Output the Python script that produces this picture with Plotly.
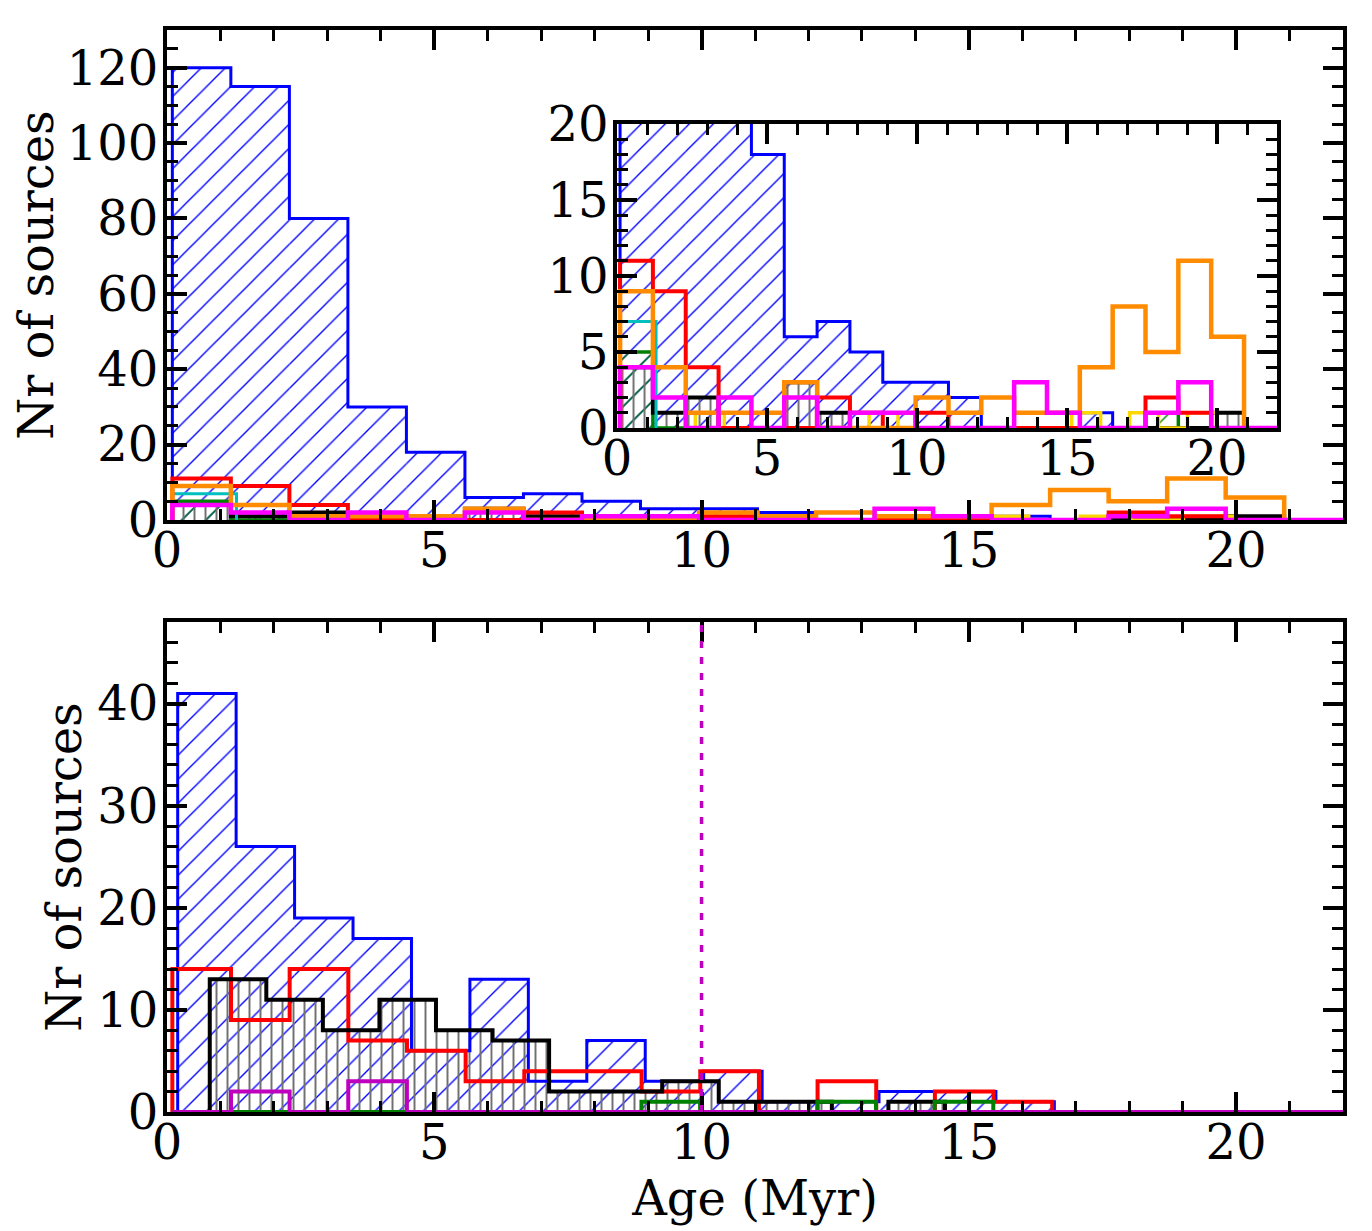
import numpy as np
import plotly.graph_objects as go

# ---- top panel (all sources), common age bins in Myr
top_edges = np.linspace(0.1, 20.9, 20)
top_blue = [120, 115, 80, 30, 18, 6, 7, 5, 3, 3, 2, 0, 0, 0, 1, 0, 0, 0, 0]
top_red = [11, 9, 4, 0, 0, 0, 2, 1, 0, 1, 0, 0, 0, 0, 0, 0, 2, 1, 0]
top_orange = [9, 4, 1, 1, 1, 3, 0, 0, 0, 2, 1, 2, 1, 1, 4, 8, 5, 11, 6]
top_green = [5, 0, 0, 0, 0, 0, 0, 0, 0, 0, 0, 0, 0, 0, 0, 0, 1, 0, 0]
top_black = [4, 1, 2, 0, 0, 3, 1, 0, 0, 0, 0, 0, 0, 0, 0, 0, 0, 0, 1]
top_magenta = [4, 2, 0, 2, 0, 2, 0, 1, 1, 0, 0, 0, 3, 1, 0, 0, 1, 3, 0, 0, 0]
magenta_edges = np.linspace(0.1, 0.1 + 21 * (20.8 / 19), 22)
cyan_edges = [0.1, 1.3]
top_cyan = [7]
yellow_edges = np.linspace(2.61, 19.98, 19)
top_yellow = [1, 0, 0, 0, 0, 0, 1, 0, 0, 0, 0, 0, 0, 1, 0, 1, 0, 1]

# ---- bottom panel
bot_blue_edges = np.linspace(0.2, 16.6, 16)
bot_blue = [41, 26, 19, 17, 6, 13, 3, 7, 3, 4, 1, 1, 2, 2, 1]
bot_red_edges = np.linspace(0.1, 16.56, 16)
bot_red = [14, 9, 14, 7, 6, 3, 4, 4, 2, 4, 0, 3, 0, 2, 1]
bot_black_edges = np.linspace(0.8, 14.554, 14)
bot_black = [13, 11, 8, 11, 8, 7, 2, 2, 3, 1, 1, 0, 1]
bot_green_edges = np.linspace(0.1, 15.458, 15)
bot_green = [0, 0, 0, 0, 0, 0, 0, 0, 1, 0, 0, 1, 0, 1]
bot_purple_edges = np.linspace(0.1, 0.1 + 21 * 1.097, 22)
bot_purple = [0, 2, 0, 3] + [0] * 17
age_cut = 10

FONT = "DejaVu Serif"

fig = go.Figure()


def hist(edges, counts, color, lw, xa, ya, hatch=None, hcolor=None, hsize=17, hsol=0.08):
    edges = np.asarray(edges, dtype=float)
    counts = list(counts)
    if hatch:
        fig.add_trace(go.Bar(
            x=edges[:-1], y=counts, width=np.diff(edges), offset=0,
            xaxis=xa, yaxis=ya, showlegend=False, hoverinfo="skip",
            marker=dict(color="rgba(0,0,0,0)", line=dict(width=0), opacity=1,
                        pattern=dict(shape=hatch, fgcolor=hcolor, bgcolor="rgba(0,0,0,0)",
                                     fgopacity=1, size=hsize, solidity=hsol))))
    fig.add_trace(go.Scatter(
        x=[edges[0]] + list(edges), y=[0] + counts + [0], mode="lines",
        line=dict(color=color, width=lw, shape="hv"),
        xaxis=xa, yaxis=ya, showlegend=False))


def top_set(xa, ya):
    hist(top_edges, top_blue, "#0000ff", 3, xa, ya, "/", "#0000ff")
    hist(top_edges, top_green, "#008000", 3.5, xa, ya, "/", "#008000")
    hist(top_edges, top_black, "#000000", 4, xa, ya, "|", "#707070", 11, 0.18)
    hist(cyan_edges, top_cyan, "#00bfbf", 3, xa, ya)
    hist(yellow_edges, top_yellow, "#ffd700", 3.5, xa, ya)
    hist(top_edges, top_red, "#ff0000", 4, xa, ya)
    hist(top_edges, top_orange, "#ff8c00", 4.5, xa, ya)
    hist(magenta_edges, top_magenta, "#ff00ff", 4.5, xa, ya)


top_set("x", "y")

hist(bot_blue_edges, bot_blue, "#0000ff", 3, "x2", "y2", "/", "#0000ff")
hist(bot_red_edges, bot_red, "#ff0000", 4, "x2", "y2")
hist(bot_black_edges, bot_black, "#000000", 4, "x2", "y2", "|", "#707070", 11, 0.18)
hist(bot_green_edges, bot_green, "#008000", 4, "x2", "y2")
hist(bot_purple_edges, bot_purple, "#bf00bf", 4, "x2", "y2")

top_set("x3", "y3")

fig.add_shape(type="line", xref="x2", yref="y2 domain", x0=age_cut, x1=age_cut, y0=0, y1=1,
              line=dict(color="#bf00bf", width=3.5, dash="7px,9px"))


def ax(rng, dtick, minor, domain, anchor, letter, title=None):
    d = dict(range=rng, domain=domain, anchor=anchor, dtick=dtick, tick0=0,
             ticks="inside", ticklen=20, tickwidth=4, tickcolor="black",
             minor=dict(ticks="inside", ticklen=11, tickwidth=2.5, dtick=minor, tick0=0, tickcolor="black"),
             showline=True, linewidth=4, linecolor="black", mirror="allticks",
             showgrid=False, zeroline=False, automargin=False,
             ticklabelstandoff=-15 if letter == "x" else -5,
             tickfont=dict(family=FONT, size=48, color="black"))
    if title:
        d["title"] = dict(text=title, standoff=2, font=dict(family=FONT, size=48, color="black"))
    return d


fig.update_layout(
    width=1372, height=1231,
    margin=dict(l=159, r=37, t=22, b=127, autoexpand=False),
    paper_bgcolor="white", plot_bgcolor="white",
    barmode="overlay", showlegend=False,
    font=dict(family=FONT, color="black"),
    xaxis=ax([0, 22], 5, 1, [0, 1], "y", "x"),
    yaxis=ax([0, 130], 20, 5, [0.5471, 1], "x", "y", "Nr of sources"),
    xaxis2=ax([0, 22], 5, 1, [0, 1], "y2", "x", "Age (Myr)"),
    yaxis2=ax([0, 48], 10, 2, [0, 0.4529], "x2", "y", "Nr of sources"),
    xaxis3=ax([0, 22], 5, 1, [0.3827, 0.9439], "y3", "x"),
    yaxis3=ax([0, 20], 5, 1, [0.6322, 0.9131], "x3", "y"),
)

fig.write_html("out.html")
